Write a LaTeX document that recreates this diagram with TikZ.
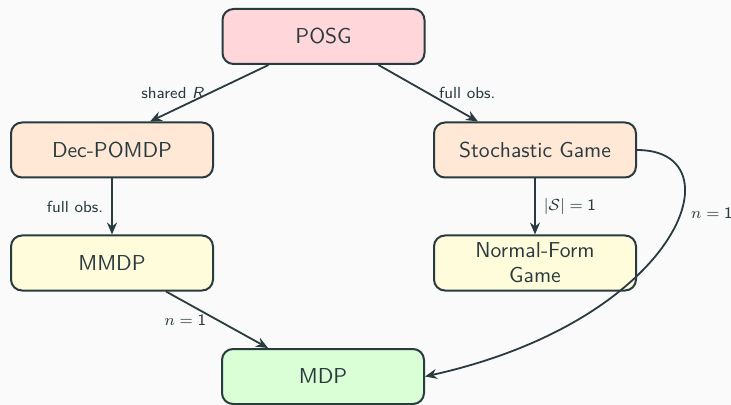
\documentclass[tikz,border=0pt]{standalone}
\usetikzlibrary{arrows.meta}
\definecolor{bgc}{HTML}{FAFAFA}
\definecolor{ink}{HTML}{2A3B3F}
\definecolor{cpink}{HTML}{FFD7DA}
\definecolor{cpeach}{HTML}{FFE8D6}
\definecolor{cyellow}{HTML}{FFFCDC}
\definecolor{cgreen}{HTML}{DAFFD6}
\begin{document}
\begin{tikzpicture}[x=0.5pt,y=-0.5pt,
  box/.style={draw=ink, line width=1pt, rounded corners=5.5pt, minimum width=101pt,
    minimum height=27.5pt, align=center, text=ink, font=\sffamily\fontsize{10.8}{12.5}\selectfont, inner sep=2pt},
  arr/.style={draw=ink, line width=0.9pt, -{Stealth[length=6pt,width=5pt,inset=2pt]}},
  lab/.style={text=ink, font=\sffamily\fontsize{8}{9}\selectfont, inner sep=2pt}]
\fill[bgc] (0,0) rectangle (731,405);
\useasboundingbox (0,0) rectangle (731,405);
\node[box, fill=cpink] (posg) at (323.5,36.5) {POSG};
\node[box, fill=cpeach] (dec) at (112,150) {Dec-POMDP};
\node[box, fill=cpeach] (sg) at (535,150) {Stochastic Game};
\node[box, fill=cyellow] (mmdp) at (112,263) {MMDP};
\node[box, fill=cyellow] (nfg) at (535,263) {Normal-Form\\Game};
\node[box, fill=cgreen] (mdp) at (323,376.5) {MDP};
\draw[arr] ([xshift=-27.5pt]posg.south) -- node[lab, anchor=east, pos=0.5] {shared \textit{R}} ([xshift=19pt]dec.north);
\draw[arr] ([xshift=27.5pt]posg.south) -- node[lab, anchor=west, pos=0.5, xshift=3pt] {full obs.} ([xshift=-28.5pt]sg.north);
\draw[arr] (dec.south) -- node[lab, anchor=east, xshift=-2pt] {full obs.} (mmdp.north);
\draw[arr] (sg.south) -- node[lab, anchor=west, xshift=2pt] {$|\mathcal{S}| = \textsf{1}$} (nfg.north);
\draw[arr] ([xshift=27pt]mmdp.south) -- node[lab, anchor=east, xshift=-3pt] {$n = \textsf{1}$} ([xshift=-27.5pt]mdp.north);
\draw[arr] (sg.east) .. controls (740,150) and (680,320) .. node[lab, pos=0.4, anchor=west, xshift=3pt] {$n = \textsf{1}$} (mdp.east);
\end{tikzpicture}
\end{document}
